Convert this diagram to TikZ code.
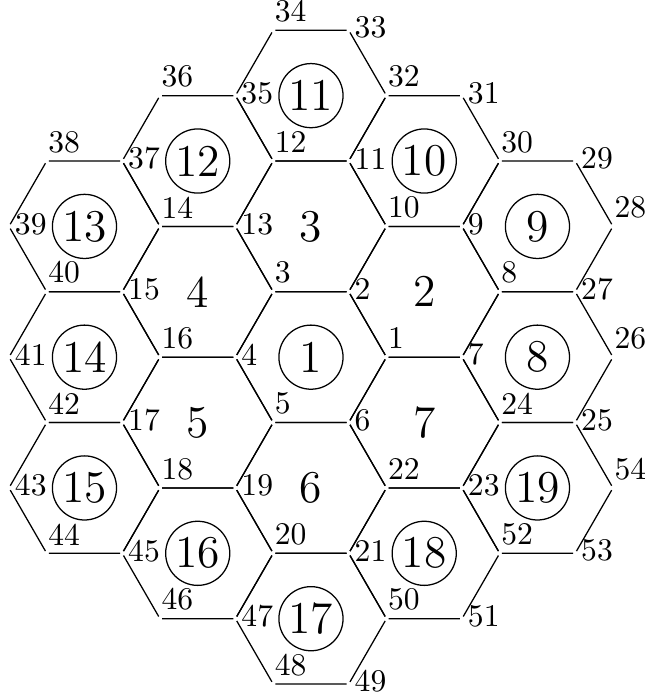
\documentclass[tikz,border=0pt]{standalone}
\usepackage{tikz}

\begin{document}
\begin{tikzpicture}[
  x=0.84cm, y=0.84cm,
  vtx/.style={inner sep=0.5pt},
  lblA/.style={anchor=south west, inner sep=0pt, xshift=0.3pt, yshift=2.4pt},
  lblB/.style={anchor=west, inner sep=0pt, xshift=1.7pt, yshift=0.8pt},
  tile/.style={font=\Large},
  tilec/.style={circle, draw, minimum size=20.3pt, inner sep=0pt, font=\Large}
]
  \useasboundingbox (-4.119,-4.488) rectangle (4.411,4.731);

  % Sommets (x, rang vertical, position de l'etiquette)
  \foreach \n/\x/\j/\k in {
    1/1/0/lblA, 2/0.5/1/lblB, 3/-0.5/1/lblA, 4/-1/0/lblB, 5/-0.5/-1/lblA,
    6/0.5/-1/lblB, 7/2/0/lblB, 8/2.5/1/lblA, 9/2/2/lblB, 10/1/2/lblA,
    11/0.5/3/lblB, 12/-0.5/3/lblA, 13/-1/2/lblB, 14/-2/2/lblA, 15/-2.5/1/lblB,
    16/-2/0/lblA, 17/-2.5/-1/lblB, 18/-2/-2/lblA, 19/-1/-2/lblB, 20/-0.5/-3/lblA,
    21/0.5/-3/lblB, 22/1/-2/lblA, 23/2/-2/lblB, 24/2.5/-1/lblA, 25/3.5/-1/lblB,
    26/4/0/lblA, 27/3.5/1/lblB, 28/4/2/lblA, 29/3.5/3/lblB, 30/2.5/3/lblA,
    31/2/4/lblB, 32/1/4/lblA, 33/0.5/5/lblB, 34/-0.5/5/lblA, 35/-1/4/lblB,
    36/-2/4/lblA, 37/-2.5/3/lblB, 38/-3.5/3/lblA, 39/-4/2/lblB, 40/-3.5/1/lblA,
    41/-4/0/lblB, 42/-3.5/-1/lblA, 43/-4/-2/lblB, 44/-3.5/-3/lblA, 45/-2.5/-3/lblB,
    46/-2/-4/lblA, 47/-1/-4/lblB, 48/-0.5/-5/lblA, 49/0.5/-5/lblB, 50/1/-4/lblA,
    51/2/-4/lblB, 52/2.5/-3/lblA, 53/3.5/-3/lblB, 54/4/-2/lblA}
  {
    \node[vtx] (v\n) at (\x,{\j*0.866025}) {};
    \node[\k] (t\n) at (v\n.center) {\n};
  }

  % Hexagones
  \foreach \a/\b/\c/\d/\e/\f in {
    1/2/3/4/5/6, 8/9/10/2/1/7, 10/11/12/13/3/2, 3/13/14/15/16/4,
    5/4/16/17/18/19, 22/6/5/19/20/21, 24/7/1/6/22/23, 26/27/8/7/24/25,
    28/29/30/9/8/27, 30/31/32/11/10/9, 32/33/34/35/12/11, 12/35/36/37/14/13,
    14/37/38/39/40/15, 16/15/40/41/42/17, 18/17/42/43/44/45, 20/19/18/45/46/47,
    50/21/20/47/48/49, 52/23/22/21/50/51, 54/25/24/23/52/53}
    \draw (v\a) -- (v\b) -- (v\c) -- (v\d) -- (v\e) -- (v\f) -- (v\a);

  % Numeros des cases
  \foreach \n/\x/\j/\s in {
    1/0/0/tilec, 2/1.5/1/tile, 3/0/2/tile, 4/-1.5/1/tile, 5/-1.5/-1/tile,
    6/0/-2/tile, 7/1.5/-1/tile, 8/3/0/tilec, 9/3/2/tilec, 10/1.5/3/tilec,
    11/0/4/tilec, 12/-1.5/3/tilec, 13/-3/2/tilec, 14/-3/0/tilec, 15/-3/-2/tilec,
    16/-1.5/-3/tilec, 17/0/-4/tilec, 18/1.5/-3/tilec, 19/3/-2/tilec}
    \node[\s] (h\n) at (\x,{\j*0.866025}) {\n};
\end{tikzpicture}
\end{document}
